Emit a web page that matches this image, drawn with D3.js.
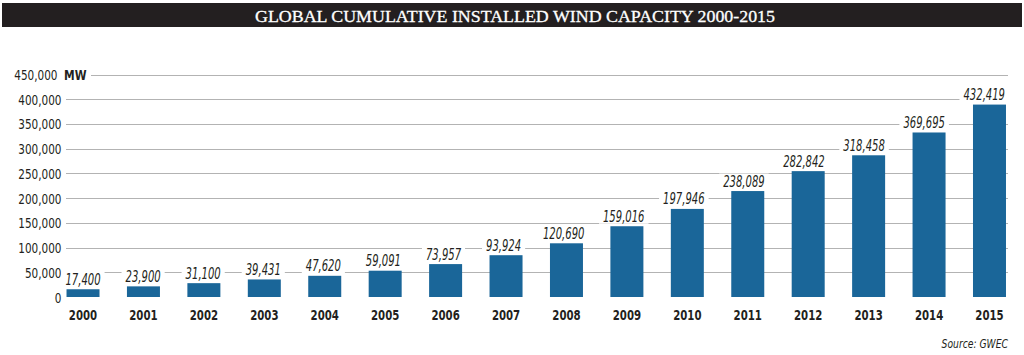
<!DOCTYPE html>
<html>
<head>
<meta charset="utf-8">
<script src="https://cdn.jsdelivr.net/npm/d3@7/dist/d3.min.js"></script>
<style>
  html, body { margin: 0; padding: 0; background: #fff; }
  svg { display: block; }
</style>
</head>
<body>
<svg id="chart" width="1024" height="355"></svg>
<script>
const years = ["2000","2001","2002","2003","2004","2005","2006","2007","2008","2009","2010","2011","2012","2013","2014","2015"];
const capacity = [17400, 23900, 31100, 39431, 47620, 59091, 73957, 93924, 120690, 159016, 197946, 238089, 282842, 318458, 369695, 432419];
const yTicks = [0, 50000, 100000, 150000, 200000, 250000, 300000, 350000, 400000, 450000];
const titleText = "GLOBAL CUMULATIVE INSTALLED WIND CAPACITY 2000-2015";
const unitText = "MW";
const sourceText = "Source: GWEC";

const svg = d3.select("#chart");
const sans = "'DejaVu Sans Condensed', 'DejaVu Sans', sans-serif";
const textCol = "#231f20";
const barCol = "#1a6699";

function condense(sel, f) {
  sel.each(function() {
    const w = this.getComputedTextLength();
    d3.select(this).attr("textLength", w * f).attr("lengthAdjust", "spacingAndGlyphs");
  });
}

// Title band
svg.append("rect").attr("x", 2).attr("y", 3).attr("width", 1020).attr("height", 24).attr("fill", "#231f20");
svg.append("text").attr("x", 515).attr("y", 21.5).attr("text-anchor", "middle")
  .attr("font-family", "'Liberation Serif', 'DejaVu Serif', serif").attr("font-size", 17.5)
  .attr("textLength", 520).attr("lengthAdjust", "spacingAndGlyphs")
  .attr("stroke", "#fff").attr("stroke-width", 0.3)
  .attr("fill", "#fff").text(titleText);

// Scales
const x = d3.scaleBand().domain(years).range([52.8, 1019.7]).paddingInner(0.454).paddingOuter(0.227);
const yAxisScale = d3.scaleLinear().domain([0, 450000]).range([297, 74.5]);
// bars in the original are drawn at a slightly compressed scale relative to the gridlines
const yBar = d3.scaleLinear().domain([0, 500000]).range([297, 74.5]);

// Gridlines
const grid = svg.append("g");
grid.selectAll("line").data(yTicks.filter(d => d > 0)).join("line")
  .attr("x1", d => d === 450000 ? 91 : 66)
  .attr("x2", 1008)
  .attr("y1", d => Math.round(yAxisScale(d)) + 0.5)
  .attr("y2", d => Math.round(yAxisScale(d)) + 0.5)
  .attr("stroke", "#b3b3b3").attr("stroke-width", 1);

// Y axis labels
const yAxis = d3.axisLeft(yAxisScale).tickValues(yTicks).tickSize(0).tickPadding(0)
  .tickFormat(d3.format(","));
const yg = svg.append("g").attr("transform", "translate(61.5,0)").call(yAxis);
yg.select(".domain").remove();
yg.selectAll("text").attr("font-family", sans).attr("font-size", 14).attr("fill", textCol).attr("dy", "0.36em")
  .call(condense, 0.83);
yg.selectAll(".tick").filter(d => d === 450000).select("text").attr("x", -4);
svg.append("text").attr("x", 64).attr("y", yAxisScale(450000)).attr("dy", "0.36em")
  .attr("font-family", sans).attr("font-size", 14).attr("font-weight", "bold").attr("fill", textCol).text(unitText)
  .call(condense, 0.85);

// Value labels with white backgrounds (break gridlines)
const labels = svg.append("g").selectAll("g").data(years).join("g");
const fmt = d3.format(",");
labels.each(function(d, i) {
  const g = d3.select(this);
  const cx = x(d) + x.bandwidth() / 2 - i * 0.35;
  const yb = yBar(capacity[i]) - 4.5;
  const t = g.append("text").attr("x", cx).attr("y", yb).attr("text-anchor", "middle")
    .attr("font-family", sans).attr("font-size", 15.5).attr("font-style", "italic")
    .attr("fill", textCol).text(fmt(capacity[i]));
  t.call(condense, 0.72);
  const w = +t.attr("textLength");
  g.insert("rect", "text").attr("x", cx - w / 2 - 4).attr("y", yb - 13).attr("width", w + 8).attr("height", 15)
    .attr("fill", "#fff");
});

// Bars
svg.append("g").selectAll("rect").data(years).join("rect")
  .attr("x", d => x(d))
  .attr("width", x.bandwidth())
  .attr("y", (d, i) => yBar(capacity[i]))
  .attr("height", (d, i) => yBar(0) - yBar(capacity[i]))
  .attr("fill", barCol);

// X axis labels
const xAxis = d3.axisBottom(x).tickSize(0).tickPadding(0);
const xg = svg.append("g").attr("transform", "translate(0,309.5)").call(xAxis);
xg.select(".domain").remove();
xg.selectAll("text").attr("font-family", sans).attr("font-size", 14.5).attr("font-weight", "bold").attr("fill", textCol)
  .attr("dy", "0.71em").call(condense, 0.78);

// Source
svg.append("text").attr("x", 1008).attr("y", 348).attr("text-anchor", "end")
  .attr("font-family", sans).attr("font-size", 12.5).attr("font-style", "italic").attr("fill", textCol).text(sourceText)
  .call(condense, 0.82);
</script>
</body>
</html>
